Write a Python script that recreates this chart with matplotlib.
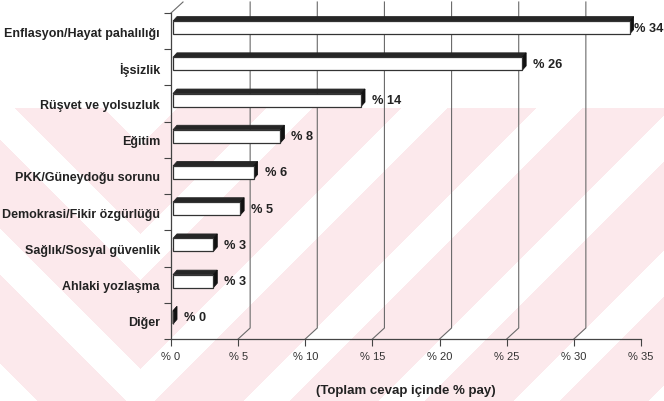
import matplotlib
matplotlib.use('Agg')
import matplotlib.pyplot as plt
from matplotlib.patches import Polygon, Rectangle
import numpy as np

plt.rcParams['font.family'] = ['Liberation Sans', 'DejaVu Sans']

# survey answers, share of all answers (%)
categories = ['Enflasyon/Hayat pahalılığı', 'İşsizlik', 'Rüşvet ve yolsuzluk', 'Eğitim',
              'PKK/Güneydoğu sorunu', 'Demokrasi/Fikir özgürlüğü', 'Sağlık/Sosyal güvenlik',
              'Ahlaki yozlaşma', 'Diğer']
shares = [34, 26, 14, 8, 6, 5, 3, 3, 0]
x_ticks = [0, 5, 10, 15, 20, 25, 30, 35]
x_tick_labels = ['%% %d' % t for t in x_ticks]
x_title = '(Toplam cevap içinde % pay)'

W, H = 664, 402
fig = plt.figure(figsize=(W / 100, H / 100), dpi=100)

# pale striped background
bg = fig.add_axes([0, 0, 1, 1], zorder=0)
bg.axis('off')
yy, xx = np.mgrid[0:H, 0:W]
s = np.abs(xx - 140) + yy
pink = (yy >= 109) & (((s - 370) % 135) > 45)
img = np.ones((H, W, 3))
img[pink] = (252 / 255, 233 / 255, 236 / 255)
bg.imshow(img, extent=(0, W, H, 0), aspect='auto', interpolation='bilinear')
bg.set_xlim(0, W)
bg.set_ylim(H, 0)

# plot area: x=0 at 171px, x=35 at 641px, rows between 14px and 340px
ax = fig.add_axes([171 / W, (H - 340) / H, 470 / W, 326 / H], zorder=1)
ax.set_facecolor('none')
ax.set_xlim(0, 35)
ax.set_ylim(len(categories) - 0.5, -0.5)

ux = 35 / 470.0   # data units per pixel, x
uy = 9 / 326.0    # data units per pixel, y

# back wall gridlines (3D look)
wdx, wdy = 12 * ux, 11 * uy
ybot, ytop = len(categories) - 0.5, -0.5
for t in x_ticks[1:-1]:
    ax.plot([t, t + wdx, t + wdx], [ybot, ybot - wdy, ytop - wdy],
            color='#6a6a6a', lw=0.8, clip_on=False, zorder=1)
ax.plot([0, wdx], [ytop, ytop - wdy], color='#6a6a6a', lw=0.8, clip_on=False)

# 3D bars
b0 = 2 * ux
fy = -3.5 * uy
fh = 13 * uy
ddx, ddy = 4 * ux, 4.5 * uy
for i, v in enumerate(shares):
    top = i + fy - fh / 2
    bot = i + fy + fh / 2
    x1 = b0 + v
    ax.add_patch(Polygon([(b0, top), (x1, top), (x1 + ddx, top - ddy), (b0 + ddx, top - ddy)],
                         closed=True, fc='#262626', ec='#262626', lw=0.6, zorder=3))
    ax.add_patch(Polygon([(x1, top), (x1 + ddx, top - ddy), (x1 + ddx, bot - ddy), (x1, bot)],
                         closed=True, fc='#111111', ec='#111111', lw=0.6, zorder=3))
    ax.add_patch(Rectangle((b0, top), v, fh, fc='white', ec='#333333', lw=0.9, zorder=4))
    lx = min(v + 13 * ux, 34.45)
    ax.text(lx, i + fy, '%% %d' % v, ha='left', va='center',
            fontsize=9.2, fontweight='bold', color='#222222', clip_on=False, zorder=5)

# axes
for side in ['top', 'right']:
    ax.spines[side].set_visible(False)
for side in ['left', 'bottom']:
    ax.spines[side].set_color('#444444')
    ax.spines[side].set_linewidth(0.9)

ax.set_xticks(x_ticks)
ax.set_xticklabels(x_tick_labels)
ax.tick_params(axis='x', length=5, width=0.8, color='#444444', labelsize=8,
               labelcolor='#333333', pad=4)

ax.set_yticks(np.arange(-0.5, len(categories), 1.0))
ax.set_yticklabels([])
ax.set_yticks(np.arange(len(categories)), minor=True)
ax.set_yticklabels(categories, minor=True)
ax.tick_params(axis='y', which='major', length=5, width=0.8, color='#444444')
ax.tick_params(axis='y', which='minor', length=0, pad=8, labelsize=9, labelcolor='#222222')
for lbl in ax.get_yticklabels(minor=True):
    lbl.set_fontweight('bold')

ax.set_xlabel(x_title, fontsize=9.5, fontweight='bold', color='#222222', labelpad=16)

fig.savefig('out.png', dpi=100)
